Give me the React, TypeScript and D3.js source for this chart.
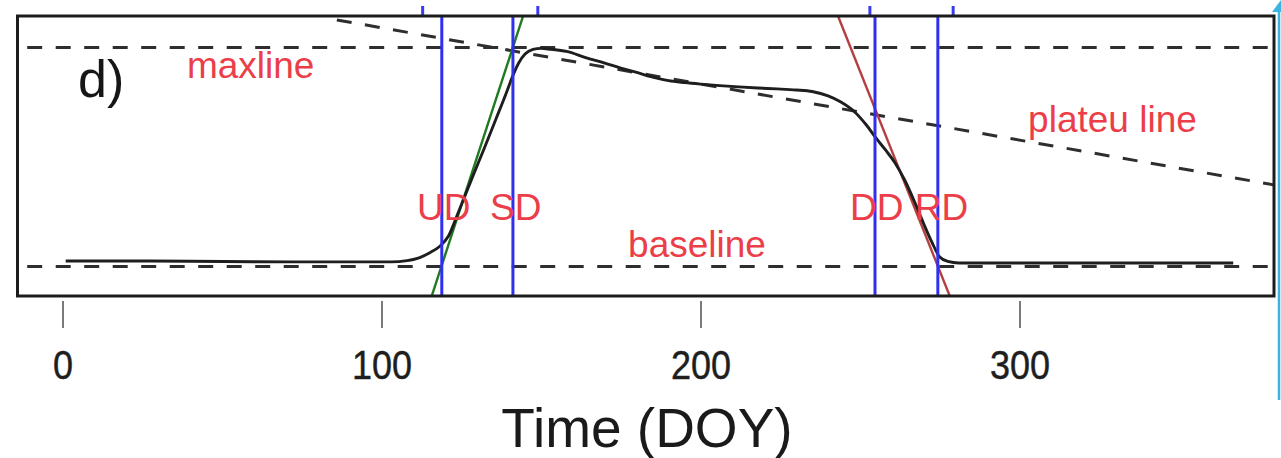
import React, { useRef, useEffect } from 'react';
import * as d3 from 'd3';

// fitted seasonal curve (day of year -> scaled index)
const curveDoy = [1, 20, 40, 60, 80, 95, 103, 108, 112, 115, 118, 121, 124, 128, 132, 136, 139, 141, 143, 145, 147.5, 150, 153, 158, 164, 170, 175, 180, 185, 190, 195, 200, 206, 212, 218, 224, 230, 235, 240, 244, 248, 252, 255, 258, 261, 264, 267, 270, 272.5, 275, 277.5, 281, 290, 310, 340, 367];
const curveValue = [0.025, 0.025, 0.024, 0.022, 0.021, 0.021, 0.021, 0.027, 0.041, 0.062, 0.089, 0.139, 0.244, 0.39, 0.532, 0.678, 0.788, 0.865, 0.929, 0.97, 0.991, 0.996, 0.992, 0.982, 0.954, 0.929, 0.906, 0.886, 0.865, 0.849, 0.84, 0.833, 0.826, 0.82, 0.815, 0.811, 0.806, 0.799, 0.779, 0.751, 0.71, 0.646, 0.587, 0.532, 0.473, 0.395, 0.299, 0.194, 0.112, 0.043, 0.023, 0.016, 0.016, 0.016, 0.016, 0.016];

// reference levels
const baselineValue = 0;
const maxlineValue = 1;
const plateauLine = [[86, 1.126], [380, 0.372]];
const greenupLine = [[115.7, -0.137], [144.4, 1.144]];
const senescenceLine = [[243.1, 1.144], [278.2, -0.137]];

// transition dates
const phenoDates = [118.9, 141.2, 254.7, 274.4];
// stubs of the dates of the panel above
const panelAboveDates = [112.9, 149, 253.1, 279.2];

const xTicks = [0, 100, 200, 300];

const labels = [
  { text: 'maxline', doy: 39, value: 0.861 },
  { text: 'UD', doy: 111.1, value: 0.212 },
  { text: 'SD', doy: 134, value: 0.212 },
  { text: 'DD', doy: 246.9, value: 0.212 },
  { text: 'RD', doy: 267.2, value: 0.212 },
  { text: 'baseline', doy: 177.3, value: 0.043 },
  { text: 'plateu line', doy: 302.7, value: 0.614 },
];

const FONT = '"Liberation Sans", Arial, Helvetica, sans-serif';

export default function App() {
  const svgRef = useRef(null);

  useEffect(() => {
    const w = 1281;
    const h = 458;
    const box = { left: 17.5, top: 16, right: 1274, bottom: 296 };

    const svg = d3.select(svgRef.current);
    svg.selectAll('*').remove();
    svg.attr('width', w).attr('height', h);

    const xScale = d3.scaleLinear().domain([0, 300]).range([62.5, 1019.5]);
    const yScale = d3.scaleLinear().domain([0, 1]).range([266.5, 47.5]);

    svg.append('defs')
      .append('clipPath')
      .attr('id', 'plot-clip')
      .append('rect')
      .attr('x', box.left)
      .attr('y', box.top)
      .attr('width', box.right - box.left)
      .attr('height', box.bottom - box.top);

    // little blue stubs poking out above the box
    svg.append('g')
      .selectAll('line')
      .data(panelAboveDates)
      .join('line')
      .attr('x1', d => xScale(d))
      .attr('x2', d => xScale(d))
      .attr('y1', 6)
      .attr('y2', box.top)
      .attr('stroke', '#3a3af0')
      .attr('stroke-width', 3);

    const plot = svg.append('g').attr('clip-path', 'url(#plot-clip)');

    const straight = d3.line()
      .x(d => xScale(d[0]))
      .y(d => yScale(d[1]));

    // dashed reference lines
    const dashed = [
      [[-20, maxlineValue], [400, maxlineValue]],
      [[-20, baselineValue], [400, baselineValue]],
      plateauLine,
    ];
    plot.selectAll('path.ref')
      .data(dashed)
      .join('path')
      .attr('class', 'ref')
      .attr('d', straight)
      .attr('fill', 'none')
      .attr('stroke', '#2e2e2e')
      .attr('stroke-width', 3)
      .attr('stroke-dasharray', '15,13.5');

    // tangent lines
    plot.append('path')
      .attr('d', straight(greenupLine))
      .attr('fill', 'none')
      .attr('stroke', '#1f7a22')
      .attr('stroke-width', 2.4);

    plot.append('path')
      .attr('d', straight(senescenceLine))
      .attr('fill', 'none')
      .attr('stroke', '#b3403f')
      .attr('stroke-width', 2.4);

    // fitted curve
    const curve = d3.line()
      .x((d, i) => xScale(curveDoy[i]))
      .y(d => yScale(d))
      .curve(d3.curveMonotoneX);

    plot.append('path')
      .datum(curveValue)
      .attr('d', curve)
      .attr('fill', 'none')
      .attr('stroke', '#1e1e1e')
      .attr('stroke-width', 2.9);

    // transition date lines
    plot.selectAll('line.date')
      .data(phenoDates)
      .join('line')
      .attr('class', 'date')
      .attr('x1', d => xScale(d))
      .attr('x2', d => xScale(d))
      .attr('y1', box.top)
      .attr('y2', box.bottom)
      .attr('stroke', '#2f2ff2')
      .attr('stroke-width', 3);

    // labels
    svg.append('g')
      .selectAll('text')
      .data(labels)
      .join('text')
      .attr('x', d => xScale(d.doy))
      .attr('y', d => yScale(d.value))
      .attr('fill', '#ec3e48')
      .attr('font-family', FONT)
      .attr('font-size', 37)
      .text(d => d.text);

    svg.append('text')
      .attr('x', 78)
      .attr('y', 97)
      .attr('fill', '#161616')
      .attr('font-family', FONT)
      .attr('font-size', 52)
      .text('d)');

    // box
    svg.append('rect')
      .attr('x', box.left)
      .attr('y', box.top)
      .attr('width', box.right - box.left)
      .attr('height', box.bottom - box.top)
      .attr('fill', 'none')
      .attr('stroke', '#1c1c1c')
      .attr('stroke-width', 3);

    // x axis
    const xAxis = d3.axisBottom(xScale)
      .tickValues(xTicks)
      .tickSize(27)
      .tickFormat(d => String(d));

    const xAxisGroup = svg.append('g')
      .attr('transform', `translate(0, 301)`)
      .call(xAxis);

    xAxisGroup.select('.domain').remove();
    xAxisGroup.selectAll('line')
      .attr('stroke', '#7a7a7a')
      .attr('stroke-width', 2);
    // the tick numbers look a little stretched upwards in the picture
    xAxisGroup.selectAll('text')
      .attr('transform', 'scale(1,1.14)')
      .attr('y', 78 / 1.14)
      .attr('dy', 0)
      .attr('fill', '#1e1e1e')
      .attr('stroke', '#1e1e1e')
      .attr('stroke-width', 0.4)
      .attr('font-family', FONT)
      .attr('font-size', 36);

    svg.append('text')
      .attr('x', 647)
      .attr('y', 447)
      .attr('text-anchor', 'middle')
      .attr('fill', '#1a1a1a')
      .attr('font-family', FONT)
      .attr('font-size', 55)
      .text('Time (DOY)');

    // cyan selection edge at the right of the screenshot
    svg.append('line')
      .attr('x1', 1279)
      .attr('x2', 1279)
      .attr('y1', 4)
      .attr('y2', 400)
      .attr('stroke', '#3cb4e2')
      .attr('stroke-width', 2.5);
    svg.append('path')
      .attr('d', 'M1272,12 L1281,0 L1281,12 Z')
      .attr('fill', '#3cb4e2');
  }, []);

  return (
    <div className="App">
      <svg ref={svgRef} style={{ position: 'absolute', left: 0, top: 0, background: '#fff' }}></svg>
    </div>
  );
}
